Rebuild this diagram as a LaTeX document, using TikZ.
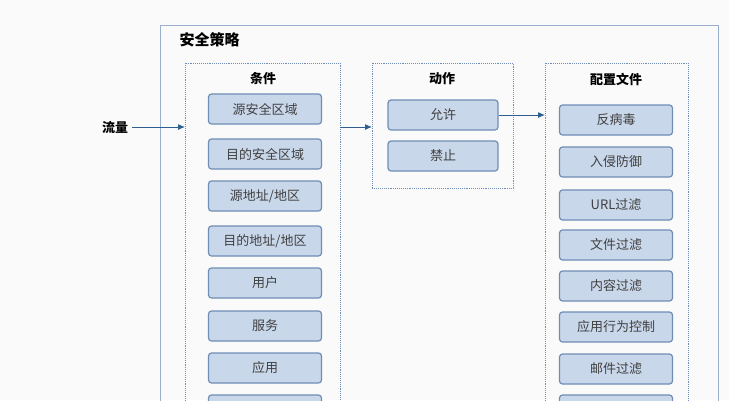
\documentclass[tikz,border=0pt]{standalone}
\usepackage{fontspec}
\newfontfamily\cjk{Noto Sans CJK SC}
\usetikzlibrary{arrows.meta}
\definecolor{bfill}{HTML}{C9D7EA}
\definecolor{bdraw}{HTML}{6F8DB5}
\definecolor{ln}{HTML}{2E5F8F}
\begin{document}
\begin{tikzpicture}[x=1pt,y=-1pt,font=\cjk\fontsize{13}{15}\selectfont,
 item/.style={draw=bdraw,fill=bfill,line width=1.2pt,rounded corners=3pt,minimum width=113pt,minimum height=30pt,text=black!75,inner sep=0pt},
 grp/.style={draw=bdraw,densely dotted,line width=0.9pt},
 hd/.style={font=\cjk\bfseries\fontsize{13}{15}\selectfont},
 arr/.style={draw=ln,line width=1pt,-{Latex[length=7pt,width=6pt]}}]
\fill[white!96!gray] (0,0) rectangle (729,400);
\useasboundingbox (0,0) rectangle (729,400);
\draw[bdraw!70,line width=1pt] (160,25) -- (718,25) -- (718,410) (160,25) -- (160,410);
\node[font=\cjk\bfseries\fontsize{15}{17}\selectfont,anchor=west] (t) at (176,40) {安全策略};
\draw[grp] (185,410) -- (185,63) -- (340,63) -- (340,410);
\draw[grp] (372,63) rectangle (513,188);
\draw[grp] (545,410) -- (545,63) -- (688,63) -- (688,410);
\node[hd] (c) at (263,79) {条件};
\node[hd] (d) at (442,79) {动作};
\node[hd] (p) at (616,79) {配置文件};
\foreach \n/\y/\t in {c1/109/{源安全区域},c2/154/{目的安全区域},c3/196/{源地址/地区},c4/241/{目的地址/地区},c5/283/{用户},c6/326/{服务},c7/368/{应用},c8/410/{}}
  \node[item] (\n) at (265,\y) {\t};
\foreach \n/\y/\t in {a1/115/允许,a2/156/禁止}
  \node[item,minimum width=110pt] (\n) at (443,\y) {\t};
\foreach \n/\y/\t in {p1/120/反病毒,p2/162/入侵防御,p3/205/URL过滤,p4/245/文件过滤,p5/286/内容过滤,p6/327/应用行为控制,p7/369/邮件过滤,p8/410/{}}
  \node[item] (\n) at (616,\y) {\t};
\node[hd] (flow) at (115,127) {流量};
\coordinate (gc) at (185,127);
\coordinate (gcr) at (340,127);
\coordinate (gd) at (372,127);
\coordinate (gp) at (545,115);
\draw[arr] (flow.east) -- (gc);
\draw[arr] (gcr) -- (gd);
\draw[arr] (a1.east) -- (gp);
\end{tikzpicture}
\end{document}
